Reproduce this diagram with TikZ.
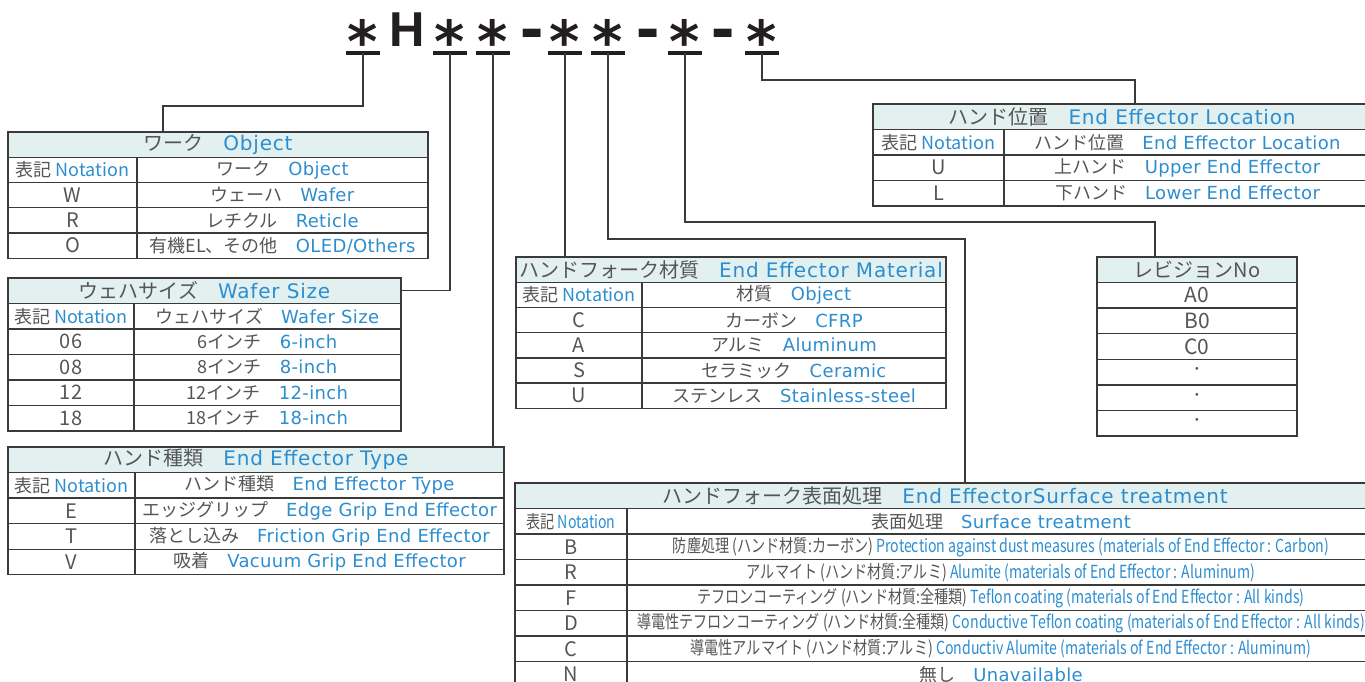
\documentclass[tikz,border=0pt]{standalone}
\usepackage{fontspec}
\setmainfont{Noto Sans CJK JP}
\newfontfamily\enfont[LetterSpace=2]{DejaVu Sans}
\newfontfamily\entitlefont[LetterSpace=4]{DejaVu Sans}
\newfontfamily\condfont[FakeStretch=0.785]{Noto Sans CJK JP}
\newfontfamily\codefont{Liberation Sans}
\newfontfamily\starfont{DejaVu Sans}
\usetikzlibrary{positioning}

\definecolor{txtgray}{HTML}{555555}
\definecolor{enblue}{HTML}{2C8DCF}
\definecolor{headfill}{HTML}{E2F1F0}
\definecolor{rulegray}{HTML}{3A3A3A}
\definecolor{codeblack}{HTML}{231F20}
\newcommand{\en}[1]{{\enfont\color{enblue}#1}}
\newcommand{\ent}[1]{{\entitlefont\color{enblue}#1}}

\begin{document}
\begin{tikzpicture}[
    x=1pt, y=-1pt,
    cell/.style={draw=rulegray, line width=1.3pt, minimum height=25.4pt, inner sep=0pt,
                 outer sep=0pt, anchor=north west, text=txtgray, font=\fontsize{18}{20}\selectfont},
    titlecell/.style={cell, fill=headfill, font=\fontsize{20}{22}\selectfont},
    condcell/.style={cell, font=\condfont\fontsize{18}{20}\selectfont},
    notecell/.style={cell, font=\fontsize{20}{22}\selectfont},
    revcell/.style={cell, font=\fontsize{21}{22}\selectfont},
    link/.style={draw=rulegray, line width=1.2pt},
    star/.style={font=\starfont\bfseries\fontsize{58}{60}\selectfont, text=codeblack,
                 inner sep=0pt, anchor=base},
    letter/.style={font=\codefont\bfseries\fontsize{49}{50}\selectfont, text=codeblack, inner sep=0pt},
    hyph/.style={font=\codefont\bfseries\fontsize{70}{72}\selectfont, text=codeblack,
                 inner sep=0pt, anchor=base},
    bar/.style={draw=codeblack, line width=4.5pt}
]
\useasboundingbox (0,0) rectangle (1365,682);

% model code
\foreach \x/\i in {363/1, 450/2, 493/3, 565/4, 608/5, 685/6, 762/7} {
    \node[star] (s\i) at (\x,63) {*};
    \coordinate (u\i) at ([yshift=10pt]s\i.base);
    \draw[bar] ([xshift=-17pt]u\i) -- ([xshift=17pt]u\i);
}
\node[letter] (h) at (407,29.5) {H};
\foreach \x/\i in {532/1, 648/2, 723/3}
    \node[hyph] (m\i) at (\x,52) {-};

% Object
\node[titlecell, minimum width=420pt] (obj-t) at (8,132) {ワーク\quad\ent{Object}};
\node[cell, minimum width=129pt] (obj-hn) at (8,157.2) {表記 \textcolor{enblue}{Notation}};
\node[cell, minimum width=291pt] (obj-hd) at (137,157.2) {ワーク\quad\en{Object}};
\foreach \nota/\desc [count=\i] in {W/ウェーハ\quad\en{Wafer}, R/レチクル\quad\en{Reticle},
        O/有機EL、その他\quad\en{OLED/Others}} {
    \node[notecell, minimum width=129pt] (obj-n\i) at (8,{157.2+\i*25.2}) {\nota};
    \node[cell, minimum width=291pt] (obj-d\i) at (137,{157.2+\i*25.2}) {\desc};
}

% Wafer size
\node[titlecell, minimum width=393pt] (wfr-t) at (8,278) {ウェハサイズ\quad\ent{Wafer Size}};
\node[cell, minimum width=126pt] (wfr-hn) at (8,303.5) {表記 \textcolor{enblue}{Notation}};
\node[cell, minimum width=267pt] (wfr-hd) at (134,303.5) {ウェハサイズ\quad\en{Wafer Size}};
\foreach \nota/\desc [count=\i] in {06/6インチ\quad\en{6-inch}, 08/8インチ\quad\en{8-inch},
        12/12インチ\quad\en{12-inch}, 18/18インチ\quad\en{18-inch}} {
    \node[notecell, minimum width=126pt] (wfr-n\i) at (8,{303.5+\i*25.5}) {\nota};
    \node[cell, minimum width=267pt] (wfr-d\i) at (134,{303.5+\i*25.5}) {\desc};
}

% End effector type
\node[titlecell, minimum width=496pt] (typ-t) at (8,447) {ハンド種類\quad\ent{End Effector Type}};
\node[cell, minimum width=127pt] (typ-hn) at (8,472.6) {表記 \textcolor{enblue}{Notation}};
\node[cell, minimum width=369pt] (typ-hd) at (135,472.6) {ハンド種類\quad\en{End Effector Type}};
\foreach \nota/\desc [count=\i] in {E/エッジグリップ\quad\en{Edge Grip End Effector},
        T/落とし込み\quad\en{Friction Grip End Effector}, V/吸着\quad\en{Vacuum Grip End Effector}} {
    \node[notecell, minimum width=127pt] (typ-n\i) at (8,{472.6+\i*25.6}) {\nota};
    \node[cell, minimum width=369pt] (typ-d\i) at (135,{472.6+\i*25.6}) {\desc};
}

% End effector material
\node[titlecell, minimum width=430pt] (mat-t) at (516,257) {ハンドフォーク材質\quad\ent{End Effector Material}};
\node[cell, minimum width=126pt] (mat-hn) at (516,282.2) {表記 \textcolor{enblue}{Notation}};
\node[cell, minimum width=304pt] (mat-hd) at (642,282.2) {材質\quad\en{Object}};
\foreach \nota/\desc [count=\i] in {C/カーボン\quad\en{CFRP}, A/アルミ\quad\en{Aluminum},
        S/セラミック\quad\en{Ceramic}, U/ステンレス\quad\en{Stainless-steel}} {
    \node[notecell, minimum width=126pt] (mat-n\i) at (516,{282.2+\i*25.2}) {\nota};
    \node[cell, minimum width=304pt] (mat-d\i) at (642,{282.2+\i*25.2}) {\desc};
}

% End effector location
\node[titlecell, minimum width=498pt] (loc-t) at (873,104) {ハンド位置\quad\ent{End Effector Location}};
\node[cell, minimum width=131pt] (loc-hn) at (873,129.5) {表記 \textcolor{enblue}{Notation}};
\node[cell, minimum width=367pt] (loc-hd) at (1004,129.5) {ハンド位置\quad\en{End Effector Location}};
\foreach \nota/\desc [count=\i] in {U/上ハンド\quad\en{Upper End Effector},
        L/下ハンド\quad\en{Lower End Effector}} {
    \node[notecell, minimum width=131pt] (loc-n\i) at (873,{129.5+\i*25.5}) {\nota};
    \node[cell, minimum width=367pt] (loc-d\i) at (1004,{129.5+\i*25.5}) {\desc};
}

% Revision
\node[titlecell, minimum width=200pt] (rev-t) at (1097,257) {レビジョンNo};
\foreach \nota [count=\i] in {A0, B0, C0, ·, ·, ·}
    \node[revcell, minimum width=200pt] (rev-n\i) at (1097,{257+\i*25.6}) {\nota};

% Surface treatment
\node[titlecell, minimum width=860pt] (srf-t) at (515,483) {ハンドフォーク表面処理\quad\ent{End EffectorSurface treatment}};
\node[condcell, minimum width=112pt] (srf-hn) at (515,508.5) {表記 \textcolor{enblue}{Notation}};
\node[cell, minimum width=748pt] (srf-hd) at (627,508.5) {表面処理\quad\en{Surface treatment}};
\foreach \nota/\desc [count=\i] in {
        B/防塵処理 (ハンド材質:カーボン) \textcolor{enblue}{Protection against dust measures (materials of End Effector : Carbon)},
        R/アルマイト (ハンド材質:アルミ) \textcolor{enblue}{Alumite (materials of End Effector : Aluminum)},
        F/テフロンコーティング (ハンド材質:全種類) \textcolor{enblue}{Teflon coating (materials of End Effector : All kinds)},
        D/導電性テフロンコーティング (ハンド材質:全種類) \textcolor{enblue}{Conductive Teflon coating (materials of End Effector : All kinds)},
        C/導電性アルマイト (ハンド材質:アルミ) \textcolor{enblue}{Conductiv Alumite (materials of End Effector : Aluminum)}} {
    \node[notecell, minimum width=112pt] (srf-n\i) at (515,{508.5+\i*25.5}) {\nota};
    \node[condcell, minimum width=748pt] (srf-d\i) at (627,{508.5+\i*25.5}) {\desc};
}
\node[notecell, minimum width=112pt] (srf-n6) at (515,661.5) {N};
\node[cell, minimum width=748pt] (srf-d6) at (627,661.5) {無し\quad\en{Unavailable}};

% connectors
\draw[link] (u1) -- ++(0,53) -| ([xshift=155pt]obj-t.north west);
\draw[link] (u2) |- (wfr-t.east);
\draw[link] (u3) -- (u3 |- typ-t.north);
\draw[link] (u4) -- (u4 |- mat-t.north);
\draw[link] (u5) -- ++(0,186) -| ([xshift=450pt]srf-t.north west);
\draw[link] (u6) -- ++(0,169) -| ([xshift=58pt]rev-t.north west);
\draw[link] (u7) -- ++(0,27) -| ([xshift=262pt]loc-t.north west);
\end{tikzpicture}
\end{document}
